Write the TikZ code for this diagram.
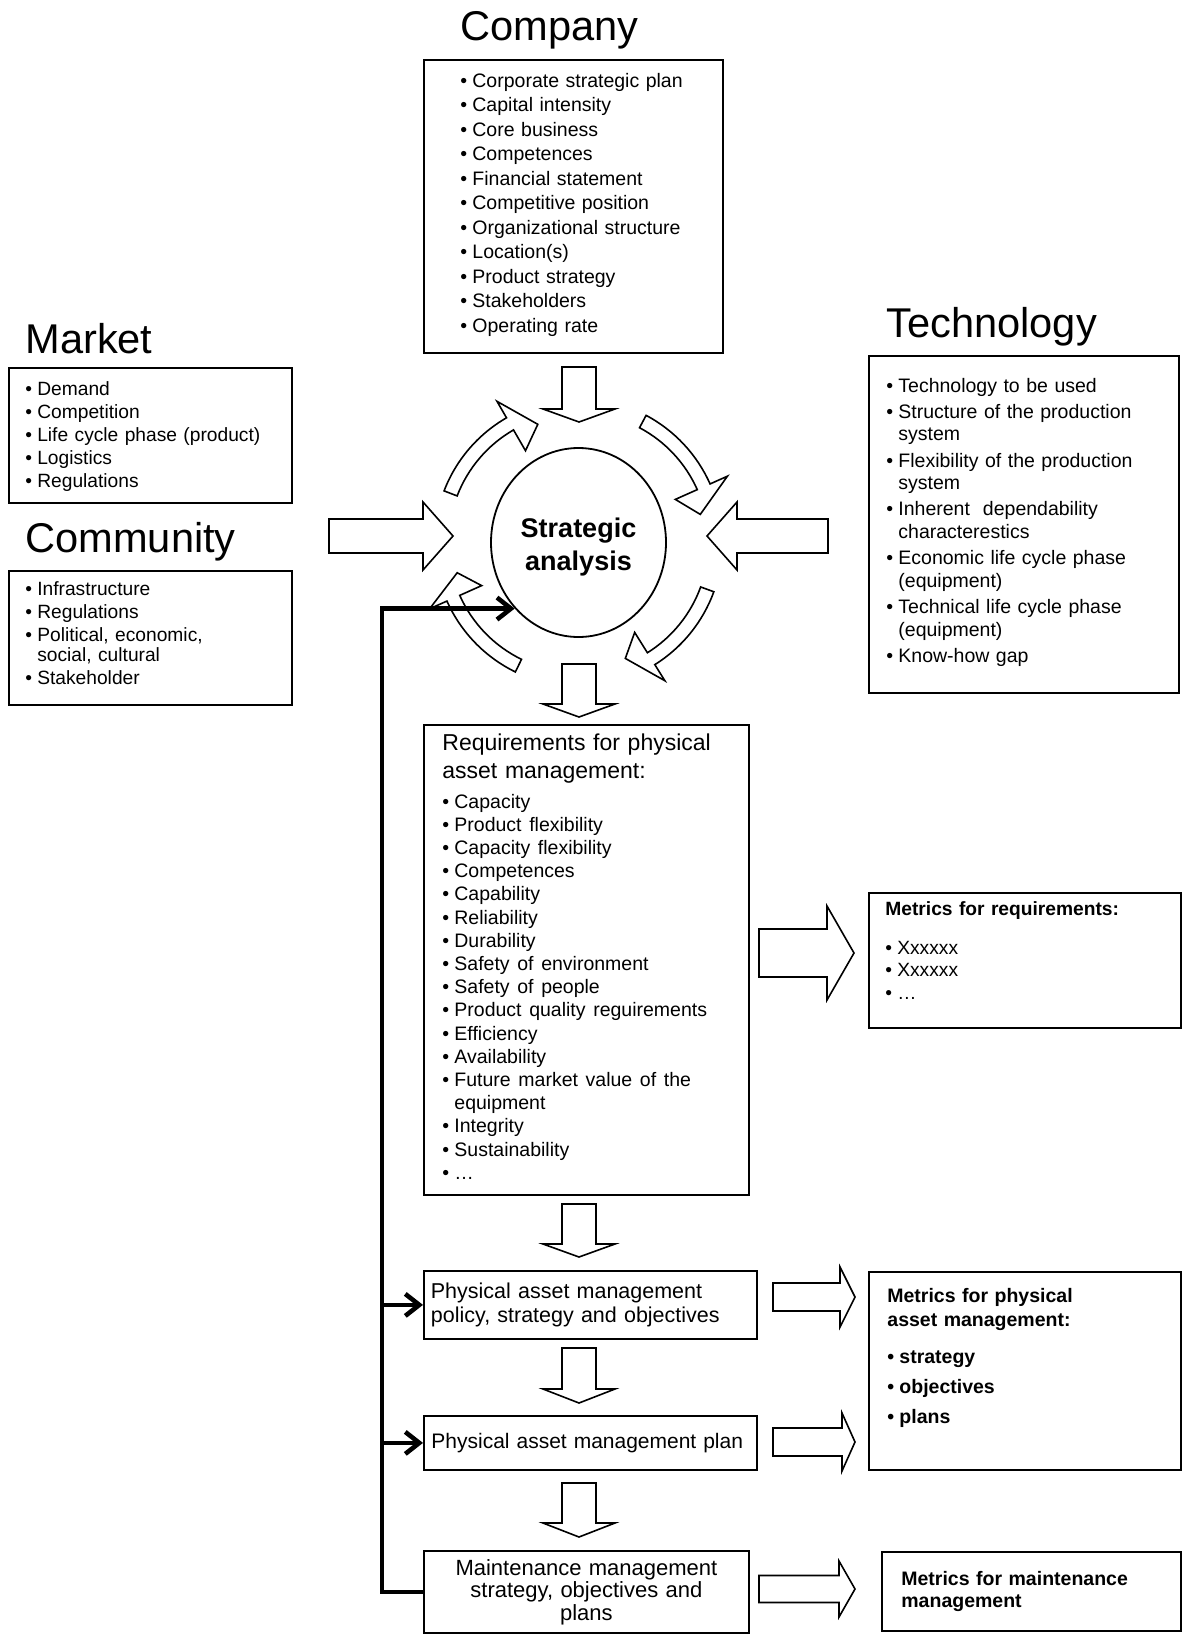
\documentclass[tikz,border=0pt]{standalone}
\usepackage{fontspec}
\setmainfont{Liberation Sans}
\usetikzlibrary{shapes.geometric,arrows.meta,positioning,calc}

\tikzset{
  box/.style={draw, line width=0.9pt, inner sep=0pt, anchor=north west},
  fat/.style={draw, fill=white, line width=0.8pt, line join=miter},
  heading/.style={anchor=base west, inner sep=0pt, font=\fontsize{20.8}{24}\selectfont},
  list/.style={anchor=base west, inner sep=0pt, align=left,
    execute at begin node={\setlength\parskip{#1}}},
  list/.default=0pt,
  feedback/.style={line width=2.3pt, line join=miter, -{Straight Barb[length=7pt,width=11pt]}},
}

% bullet item with hanging indent
\newcommand{\itm}[1]{\setbox0\hbox{\textbullet\hspace{2.6pt}}\hangindent=\wd0 \hangafter=1 \noindent\box0 #1\par}
% block arrow pointing down: centre x, top, head base, tip
\newcommand{\fatdown}[4]{\draw[fat] (#1-17,#2) -- (#1+17,#2) -- (#1+17,#3) -- (#1+36,#3) -- (#1,#4) -- (#1-36,#3) -- (#1-17,#3) -- cycle;}
% block arrow sideways: tail x, centre y, head base x, tip x, shaft half, head half
\newcommand{\fatside}[6]{\draw[fat] (#1,#2-#5) -- (#3,#2-#5) -- (#3,#2-#6) -- (#4,#2) -- (#3,#2+#6) -- (#3,#2+#5) -- (#1,#2+#5) -- cycle;}
% curved block arrow round the analysis: start, head base, tip angle
\newcommand{\bentarrow}[3]{\draw[fat] (#1:144) arc[start angle=#1, end angle=#2, radius=144] -- (#2:163) -- (#3:125) -- (#2:106) -- (#2:130) arc[start angle=#2, end angle=#1, radius=130] -- cycle;}

\begin{document}
\begin{tikzpicture}[x=0.5pt,y=-0.5pt]
\useasboundingbox (0,0) rectangle (1182,1638);

% headings
\node[heading] (companytitle) at (460,40) {Company};
\node[heading] (markettitle) at (25,353) {Market};
\node[heading] (communitytitle) at (25,552) {Community};
\node[heading] (technologytitle) at (886,337) {Technology};

% boxes
\node[box, minimum width=149.5pt, minimum height=146.5pt] (company) at (423,59) {};
\node[box, minimum width=141.5pt, minimum height=67.5pt] (market) at (8,367) {};
\node[box, minimum width=141.5pt, minimum height=67pt] (community) at (8,570) {};
\node[box, minimum width=155pt, minimum height=168.5pt] (technology) at (868,355) {};
\node[box, minimum width=162.5pt, minimum height=235pt] (requirements) at (423,724) {};
\node[box, minimum width=156pt, minimum height=67.5pt] (metricsreq) at (868,892) {};
\node[box, minimum width=156pt, minimum height=99pt] (metricspam) at (868,1271) {};

\node[list, text width=135pt, font=\fontsize{9.75}{12.25}\selectfont] (companylist) at (460,87)
  {\itm{Corporate strategic plan}\itm{Capital intensity}\itm{Core business}\itm{Competences}%
   \itm{Financial statement}\itm{Competitive position}\itm{Organizational structure}%
   \itm{Location(s)}\itm{Product strategy}\itm{Stakeholders}\itm{Operating rate}};
\node[list, text width=130pt, font=\fontsize{9.6}{11.6}\selectfont] (marketlist) at (25,395)
  {\itm{Demand}\itm{Competition}\itm{Life cycle phase (product)}\itm{Logistics}\itm{Regulations}};
\node[list=1.6pt, text width=130pt, font=\fontsize{9.6}{10}\selectfont] (communitylist) at (25,595)
  {\itm{Infrastructure}\itm{Regulations}\itm{Political, economic,\newline social, cultural}\itm{Stakeholder}};
\node[list=1.9pt, text width=142pt, font=\fontsize{9.75}{11.25}\selectfont] (technologylist) at (886,392)
  {\itm{Technology to be used}\itm{Structure of the production\newline system}%
   \itm{Flexibility of the production\newline system}\itm{Inherent\ \ dependability\newline characterestics}%
   \itm{Economic life cycle phase\newline (equipment)}\itm{Technical life cycle phase\newline (equipment)}%
   \itm{Know-how gap}};
\node[list, text width=150pt, font=\fontsize{11.5}{14}\selectfont] (reqlist) at (442,750)
  {Requirements for physical\newline asset management:\par
   \fontsize{9.75}{11.6}\selectfont\vspace{3.4pt}%
   \itm{Capacity}\itm{Product flexibility}\itm{Capacity flexibility}\itm{Competences}%
   \itm{Capability}\itm{Reliability}\itm{Durability}\itm{Safety of environment}%
   \itm{Safety of people}\itm{Product quality reguirements}\itm{Efficiency}\itm{Availability}%
   \itm{Future market value of the\newline equipment}\itm{Integrity}\itm{Sustainability}\itm{…}};
\node[list, text width=140pt, font=\fontsize{9.6}{11.25}\selectfont] (metricsreqlist) at (885,915)
  {\textbf{Metrics for requirements:}\par\vspace{8.25pt}\itm{Xxxxxx}\itm{Xxxxxx}\itm{…}};
\node[list=3pt, text width=140pt, font=\bfseries\fontsize{9.75}{12}\selectfont] (metricspamlist) at (887,1302)
  {Metrics for physical\newline asset management:\par\vspace{3.5pt}\itm{strategy}\itm{objectives}\itm{plans}};

\node[box, minimum width=166.5pt, minimum height=34pt, text width=159.5pt, inner xsep=3.5pt,
  align=left, font=\fontsize{10.75}{12}\selectfont] (policy) at (423,1270)
  {Physical asset management\\policy, strategy and objectives};
\node[box, minimum width=166.5pt, minimum height=27pt, text width=159pt, inner xsep=3.75pt,
  align=left, font=\fontsize{10.5}{12}\selectfont] (plan) at (423,1415)
  {Physical asset management plan};
\node[box, minimum width=162.5pt, minimum height=41pt, text width=155pt,
  align=center, font=\fontsize{11}{11.25}\selectfont] (maint) at (423,1550)
  {Maintenance management\\strategy, objectives and\\plans};
\node[box, minimum width=149.5pt, minimum height=39.5pt, text width=130pt, inner xsep=9.5pt,
  align=left, font=\bfseries\fontsize{9.75}{10.75}\selectfont] (metricsmm) at (881,1551)
  {Metrics for maintenance\\management};

% strategic analysis
\node[ellipse, draw, line width=0.9pt, minimum width=87.5pt, minimum height=94.5pt, inner sep=0pt,
  text height=30.5pt, align=center, font=\bfseries\fontsize{13.5}{16.5}\selectfont] (sa) at (578.5,542.5) {Strategic\\analysis};

% block arrows
\fatdown{579}{367}{409}{422}
\fatdown{579}{664}{704}{717}
\fatdown{579}{1204}{1244}{1257}
\fatdown{579}{1348}{1389}{1403}
\fatdown{579}{1483}{1523}{1537}
\fatside{329}{536}{423}{453}{17}{34}
\fatside{828}{536}{737}{707}{17}{34}
\fatside{759}{953}{827}{854}{24}{47}
\fatside{773}{1297}{840}{855}{14}{30}
\fatside{773}{1442}{842}{855}{14}{29}
\fatside{759}{1589}{839}{855}{13.5}{28}

% cycle round the analysis
\begin{scope}[shift={(sa.center)}]
  \bentarrow{-159}{-120}{-109}
  \bentarrow{-62}{-24}{-13}
  \bentarrow{20}{58}{68}
  \bentarrow{116}{156}{166}
\end{scope}

% feedback
\coordinate (fbx) at (382,0);
\draw[feedback] (maint.west) -| (fbx |- sa.-134) -- (sa.-134);
\draw[feedback] (fbx |- policy.west) -- (policy.west);
\draw[feedback] (fbx |- plan.west) -- (plan.west);
\end{tikzpicture}
\end{document}
